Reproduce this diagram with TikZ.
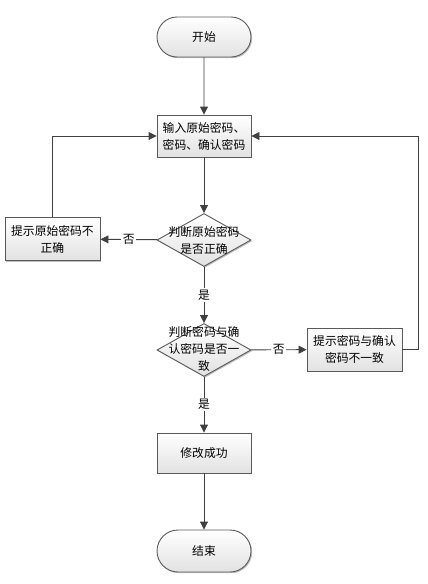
\documentclass[tikz,border=0pt]{standalone}
\usepackage{fontspec}
\setmainfont{Noto Sans CJK SC}
\usetikzlibrary{arrows.meta,shapes.geometric,shapes.misc,shadows}
\definecolor{bord}{HTML}{5A5A5A}
\definecolor{linec}{HTML}{404040}
\definecolor{fillb}{HTML}{E2E2E2}
\tikzset{
  base/.style={draw=bord, line width=0.9pt, top color=white, bottom color=fillb,
    drop shadow={shadow xshift=1.2pt, shadow yshift=-1.2pt, opacity=0.25, fill=black},
    font=\fontsize{11.8}{17}\selectfont, align=center, inner sep=0pt},
  term/.style={base, rounded rectangle, minimum width=94pt, minimum height=40pt},
  proc/.style={base, rectangle, minimum width=94pt, minimum height=42pt},
  dia/.style={base, diamond, minimum width=94pt, minimum height=53pt},
  txt/.style={font=\fontsize{11.8}{17}\selectfont, align=center, inner sep=0pt},
  conn/.style={draw=linec, line width=0.9pt, -{Triangle[length=8pt,width=8pt]}},
  lab/.style={fill=white, inner sep=1.5pt, font=\fontsize{11.8}{13}\selectfont}
}
\begin{document}
\begin{tikzpicture}[x=1pt,y=-1pt]
\useasboundingbox (0,0) rectangle (428,584);
\node[term] (start) at (204,37) {开始};
\node[proc] (input) at (204,136) {输入原始密码、\\密码、确认密码};
\node[dia] (d1) at (204,240) {};
\node[txt] (d1t) at (204,240) {判断原始密码\\是否正确};
\node[proc, minimum width=95pt, minimum height=43pt] (err1) at (52.5,239) {提示原始密码不\\正确};
\node[dia] (d2) at (204,350) {};
\node[txt] (d2t) at (204,349) {判断密码与确\\认密码是否一\\致};
\node[proc, minimum width=95pt, minimum height=43pt] (err2) at (354.5,349.5) {提示密码与确认\\密码不一致};
\node[proc, minimum height=40pt] (ok) at (204,453) {修改成功};
\node[term, minimum height=42pt] (end) at (204,551) {结束};
\coordinate (rc) at (418,349.5);
\coordinate (lc) at (52.5,136);

\draw[conn] (start) -- (input);
\draw[conn] (input) -- (d1);
\draw[conn] (d1) -- node[lab] {否} (err1);
\draw[conn] (d1) -- node[lab] {是} (d2);
\draw[conn] (d2) -- node[lab] {否} (err2);
\draw[conn] (d2) -- node[lab] {是} (ok);
\draw[conn] (ok) -- (end);
\draw[conn] (err1.north) -- (lc) -- (input.west);
\draw[conn] (err2.east) -- (rc) |- (input.east);
\end{tikzpicture}
\end{document}
